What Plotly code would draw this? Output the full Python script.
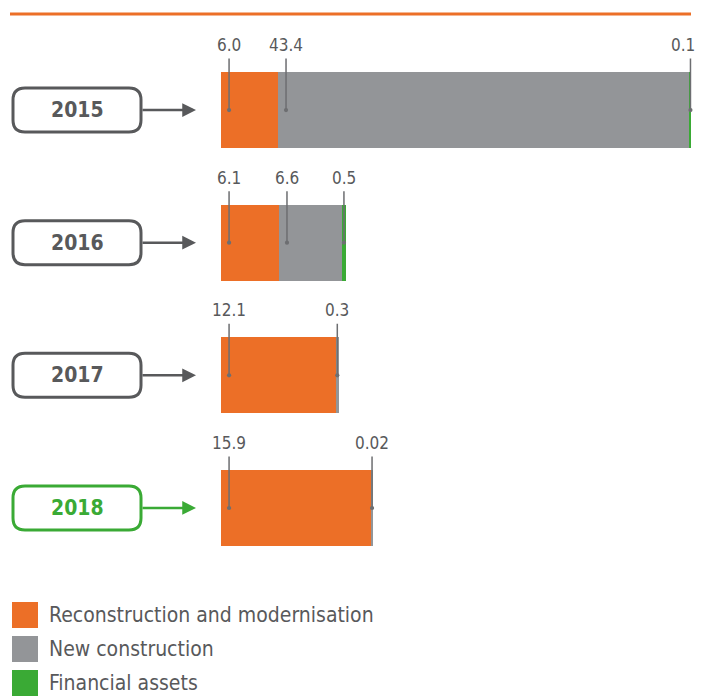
import plotly.graph_objects as go

# ---------------- data ----------------
years = ["2015", "2016", "2017", "2018"]
series_names = ["Reconstruction and modernisation", "New construction", "Financial assets"]
reconstruction = [6.0, 6.1, 12.1, 15.9]
new_construction = [43.4, 6.6, 0.3, 0.02]
financial_assets = [0.1, 0.5, 0.0, 0.0]
highlight_year = "2018"

# ---------------- style ----------------
W, H = 703, 696          # browser window
OFF = 8                  # default page body margin
FW, FH = W - OFF, H - OFF  # figure size so it fits the window
ORANGE = "#ec6f27"
GRAY = "#939598"
GREEN = "#3aaa35"
TEXT = "#58595b"
LEAD = "#6d6e71"
FONT = "DejaVu Sans Condensed, DejaVu Sans, sans-serif"
colors = [ORANGE, GRAY, GREEN]
series = [reconstruction, new_construction, financial_assets]
X_MAX = 50.77


def px(x):
    return (x - OFF) / FW


def py(y):
    return 1 - (y - OFF) / FH


def fmt(v):
    return f"{v:.1f}" if abs(round(v, 1) - v) < 1e-9 else f"{v:.2f}"


fig = go.Figure()
for name, vals, col in zip(series_names, series, colors):
    fig.add_trace(go.Bar(
        y=years, x=vals, name=name, orientation="h",
        marker=dict(color=col, line=dict(width=0)),
        showlegend=False, hoverinfo="skip",
    ))

annotations = []
shapes = []

# value labels with leader lines
for i, yr in enumerate(years):
    start = 0.0
    for vals in series:
        v = vals[i]
        if v > 0:
            xpos = start + 0.85 if v >= 2 else start + v / 2
            # leader line with dot
            annotations.append(dict(
                x=xpos, y=i, xref="x", yref="y", text="",
                showarrow=True, ax=0, ay=-53, arrowhead=6, arrowsize=0.7,
                arrowwidth=1.5, arrowcolor=LEAD, standoff=0,
            ))
            near_edge = xpos > X_MAX - 1.5
            annotations.append(dict(
                x=xpos, y=i, xref="x", yref="y", text=fmt(v), showarrow=False,
                xanchor="right" if near_edge else "center", yanchor="middle",
                xshift=7 if near_edge else 0, yshift=65,
                font=dict(family=FONT, size=17, color=TEXT),
            ))
        start += v

# year boxes and arrows
x0, x1, hh, r = 13 - OFF, 141 - OFF, 22, 12
box_path = (f"M {x0 + r},{-hh} L {x1 - r},{-hh} Q {x1},{-hh} {x1},{-hh + r} "
            f"L {x1},{hh - r} Q {x1},{hh} {x1 - r},{hh} L {x0 + r},{hh} "
            f"Q {x0},{hh} {x0},{hh - r} L {x0},{-hh + r} Q {x0},{-hh} {x0 + r},{-hh} Z")
for i, yr in enumerate(years):
    c = GREEN if yr == highlight_year else TEXT
    shapes.append(dict(
        type="path", xref="paper", yref="y", xsizemode="pixel", ysizemode="pixel",
        xanchor=0, yanchor=i, path=box_path,
        line=dict(color=c, width=3), fillcolor="white", layer="above",
    ))
    annotations.append(dict(
        x=px(77), y=i, xref="paper", yref="y", text=f"<b>{yr}</b>", showarrow=False,
        xanchor="center", yanchor="middle",
        font=dict(family=FONT, size=21, color=c),
    ))
    annotations.append(dict(
        x=px(196), y=i, xref="paper", yref="y", text="", showarrow=True,
        ax=-55, ay=0, arrowhead=2, arrowsize=1.1, arrowwidth=2.5, arrowcolor=c, standoff=0,
    ))

# top rule
shapes.append(dict(type="line", xref="paper", yref="paper",
                   x0=px(10), x1=px(691), y0=py(14), y1=py(14),
                   line=dict(color=ORANGE, width=3)))

# legend
for k, (name, col) in enumerate(zip(series_names, colors)):
    top = 602 + k * 34
    shapes.append(dict(type="rect", xref="paper", yref="paper",
                       x0=px(12), x1=px(38), y0=py(top + 26), y1=py(top),
                       fillcolor=col, line=dict(width=0)))
    annotations.append(dict(
        x=px(47), y=py(top + 13), xref="paper", yref="paper", text=name,
        showarrow=False, xanchor="left", yanchor="middle",
        font=dict(family=FONT, size=21, color=TEXT),
    ))

fig.update_layout(
    width=FW, height=FH,
    margin=dict(l=0, r=0, t=0, b=0),
    paper_bgcolor="white", plot_bgcolor="white",
    barmode="stack", bargap=0.427,
    xaxis=dict(domain=[px(221), 1], range=[0, X_MAX], visible=False, fixedrange=True),
    yaxis=dict(type="category", categoryorder="array", categoryarray=years,
               range=[3.5, -0.5], domain=[py(574.3), py(43.7)], visible=False, fixedrange=True),
    shapes=shapes, annotations=annotations,
)

fig.write_html("out.html")
